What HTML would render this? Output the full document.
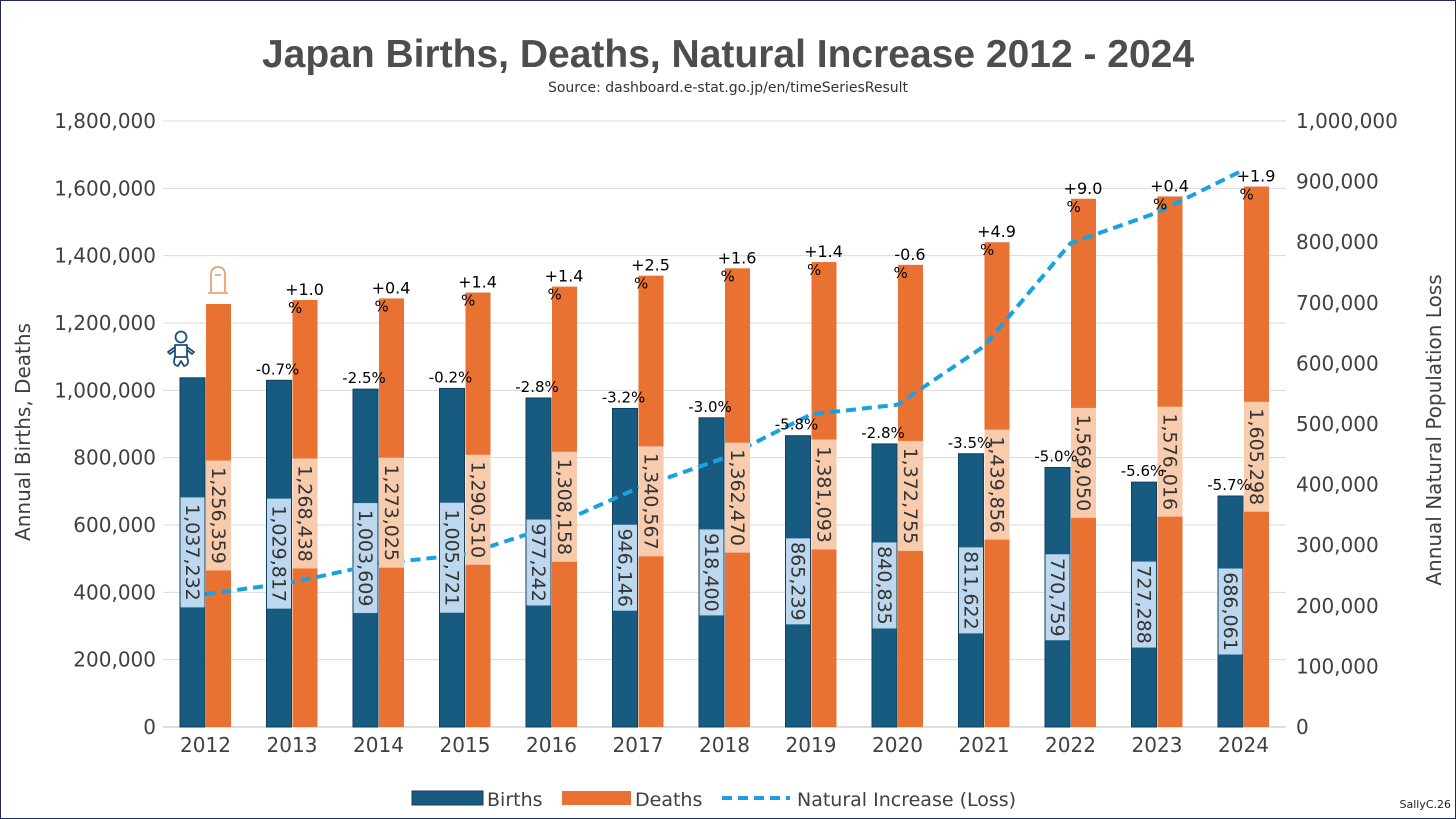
<!DOCTYPE html>
<html><head><meta charset="utf-8"><style>
html,body{margin:0;padding:0;background:#fff}
#frame{position:absolute;left:0;top:0;width:1454px;height:817px;border:1px solid #1f2a5a;background:#fff}
svg{position:absolute;left:0;top:0}
text{font-family:"DejaVu Sans","Liberation Sans",sans-serif}
text.title{font-family:"Liberation Sans",Arial,sans-serif}
</style></head><body>
<div id="frame"></div>
<svg id="c" width="1456" height="819"></svg>
<script>
const years=[2012,2013,2014,2015,2016,2017,2018,2019,2020,2021,2022,2023,2024];
const births=[1037232,1029817,1003609,1005721,977242,946146,918400,865239,840835,811622,770759,727288,686061];
const deaths=[1256359,1268438,1273025,1290510,1308158,1340567,1362470,1381093,1372755,1439856,1569050,1576016,1605298];
const naturalLoss=[219127,238621,269416,284789,330916,394421,444070,515854,531920,628234,798291,848728,919237];
const birthPct=["","-0.7%","-2.5%","-0.2%","-2.8%","-3.2%","-3.0%","-5.8%","-2.8%","-3.5%","-5.0%","-5.6%","-5.7%"];
const deathPct=["","+1.0","+0.4","+1.4","+1.4","+2.5","+1.6","+1.4","-0.6","+4.9","+9.0","+0.4","+1.9"];
const leftTicks=[0,200000,400000,600000,800000,1000000,1200000,1400000,1600000,1800000];
const rightTicks=[0,100000,200000,300000,400000,500000,600000,700000,800000,900000,1000000];

const svg=document.getElementById('c');const NS='http://www.w3.org/2000/svg';
function el(t,a,txt){const e=document.createElementNS(NS,t);for(const k in a)e.setAttribute(k,a[k]);if(txt!==undefined)e.textContent=txt;svg.appendChild(e);return e;}
const X0=163,X1=1286,Y0=727,Y1=121;
const yL=v=>Y0-(v/1800000)*(Y0-Y1);
const yR=v=>Y0-(v/1000000)*(Y0-Y1);
const xc=i=>205.5+i*86.5;
const fmt=v=>v.toLocaleString('en-US');

let e;
e=el('text',{class:'title',x:728,y:67,'text-anchor':'middle','font-size':39,'font-weight':'bold',fill:'#4d4d4d'},'Japan Births, Deaths, Natural Increase 2012 - 2024');

e=el('text',{x:728,y:92,'text-anchor':'middle','font-size':14,fill:'#333'},'Source: dashboard.e-stat.go.jp/en/timeSeriesResult');


leftTicks.forEach(v=>{
  const y=yL(v);
  e=el('line',{x1:X0,x2:X1,y1:y,y2:y,stroke:v===0?'#bfbfbf':'#d9d9d9','stroke-width':1});
  
  e=el('text',{x:156,y:y+7,'text-anchor':'end','font-size':20,fill:'#404040'},fmt(v));
  
});
rightTicks.forEach(v=>{
  e=el('text',{x:1296,y:yR(v)+7,'font-size':20,fill:'#404040'},fmt(v));
  
});
e=el('text',{transform:'translate(30,432) rotate(-90)','text-anchor':'middle','font-size':20,fill:'#404040'},'Annual Births, Deaths');

e=el('text',{transform:'translate(1441,430) rotate(-90)','text-anchor':'middle','font-size':20,fill:'#404040'},'Annual Natural Population Loss');


const BW=25;
years.forEach((yr,i)=>{
  const c=xc(i);
  e=el('text',{x:c,y:752,'text-anchor':'middle','font-size':20,fill:'#404040'},String(yr));
  
  const bt=yL(births[i]);
  e=el('rect',{x:c-BW-0.5,y:bt,width:BW,height:Y0-bt,fill:'#175b81',stroke:'#0f3f5c','stroke-width':1});
  
  const dt=yL(deaths[i]);
  e=el('rect',{x:c+0.5,y:dt,width:BW,height:Y0-dt,fill:'#e97132'});
  
});
const pts=naturalLoss.map((v,i)=>`${xc(i)},${yR(v)}`).join(' ');
e=el('polyline',{points:pts,fill:'none',stroke:'#1ba1e2','stroke-width':4,'stroke-dasharray':'10 6'});


years.forEach((yr,i)=>{
  const c=xc(i);
  const bt=yL(births[i]),dt=yL(deaths[i]);
  const bm=(bt+Y0)/2,bs=fmt(births[i]),bh=bs.length*12+2;
  e=el('rect',{x:c-BW,y:bm-bh/2,width:BW-1,height:bh,fill:'#bdd7ee'});
  
  e=el('text',{transform:`translate(${c-BW/2-7},${bm}) rotate(90)`,'text-anchor':'middle','font-size':19,fill:'#333'},bs);
  
  const dm=(dt+Y0)/2,ds=fmt(deaths[i]),dh=ds.length*12+2;
  e=el('rect',{x:c+0.5,y:dm-dh/2,width:BW,height:dh,fill:'#f8cbad'});
  
  e=el('text',{transform:`translate(${c+BW/2-6},${dm}) rotate(90)`,'text-anchor':'middle','font-size':19,fill:'#333'},ds);
  
  if(birthPct[i]){
    e=el('text',{x:c-BW/2-2,y:bt-6,'text-anchor':'middle','font-size':15,fill:'#000'},birthPct[i]);
    
  }
  if(deathPct[i]){
    e=el('text',{x:c+BW/2,y:dt-5,'text-anchor':'middle','font-size':16,fill:'#000'},deathPct[i]);
    
    e=el('text',{x:c-4,y:dt+13,'font-size':15,fill:'#000'},'%');
    
  }
});

const g=document.createElementNS(NS,'g');
g.innerHTML='<circle cx="181" cy="337" r="5.5" fill="none" stroke="#1f4e79" stroke-width="1.8"/><path d="M175,345 L187,345 L187,357 L175,357 Z M175,347 L168,352 L170,354 L175,350 M187,347 L194,352 L192,354 L187,350 M175,357 Q172,365 178,366 L181,361 L184,366 Q190,365 187,357" fill="none" stroke="#1f4e79" stroke-width="1.8" stroke-linejoin="round"/>';
svg.appendChild(g);
const g2=document.createElementNS(NS,'g');
g2.innerHTML='<path d="M211,292 L211,275 Q211,267 218,267 Q225,267 225,275 L225,292 M208,293 L228,293 M215,275 L221,275" fill="none" stroke="#e8955f" stroke-width="1.6"/>';
svg.appendChild(g2);

e=el('rect',{x:412,y:791,width:71,height:14,fill:'#175b81',stroke:'#0f3f5c'});
e=el('text',{x:487,y:806,'font-size':19,fill:'#404040'},'Births');
e=el('rect',{x:562,y:791,width:69,height:14,fill:'#e97132'});
e=el('text',{x:635,y:806,'font-size':19,fill:'#404040'},'Deaths');
e=el('line',{x1:722,x2:790,y1:798,y2:798,stroke:'#1ba1e2','stroke-width':4,'stroke-dasharray':'10 6'});
e=el('text',{x:797,y:806,'font-size':19,fill:'#404040'},'Natural Increase (Loss)');
e=el('text',{x:1451,y:808,'text-anchor':'end','font-size':11,fill:'#222'},'SallyC.26');
</script>
</body></html>
